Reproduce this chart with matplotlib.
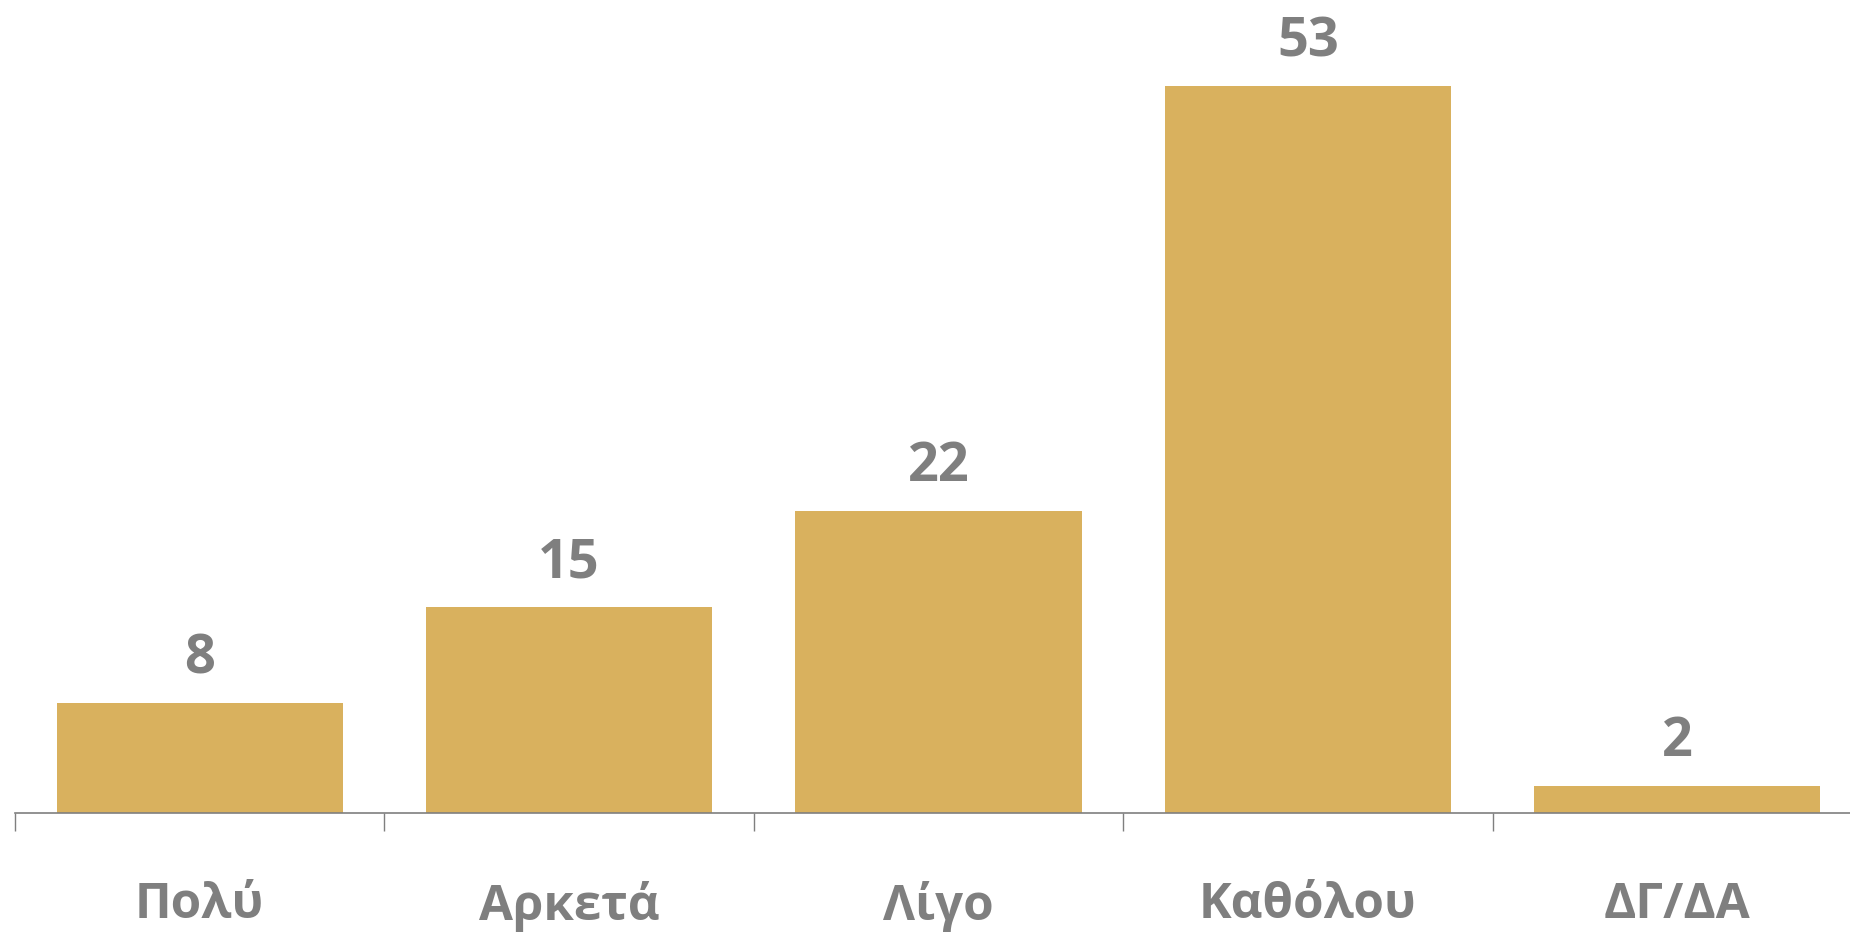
import matplotlib
matplotlib.use("Agg")
import matplotlib.pyplot as plt
import numpy as np

categories = ["Πολύ", "Αρκετά", "Λίγο", "Καθόλου", "ΔΓ/ΔΑ"]
values = [8, 15, 22, 53, 2]

bar_color = "#D9B15E"
text_color = "#7F7F7F"

plt.rcParams['font.family'] = ['Open Sans', 'DejaVu Sans']

fig = plt.figure(figsize=(18.5, 9.32), dpi=100)
ax = fig.add_axes([15 / 1850, 119 / 932, 1847 / 1850, 0.86])

x = np.arange(len(categories))
bars = ax.bar(x, values, width=0.775, color=bar_color, zorder=2)

ax.set_xlim(-0.5, len(categories) - 0.5)
ax.set_ylim(0, 0.86 * 932 / 13.72)

for b, v in zip(bars, values):
    ax.annotate(str(v), (b.get_x() + b.get_width() / 2, v),
                xytext=(0, 12), textcoords="offset points",
                ha="center", va="bottom", fontsize=39, fontweight="bold",
                color=text_color, annotation_clip=False)

for s in ["top", "right", "left"]:
    ax.spines[s].set_visible(False)
ax.spines["bottom"].set_color(text_color)
ax.spines["bottom"].set_linewidth(1.2)

ax.set_yticks([])
ax.set_xticks(x)
ax.set_xticklabels(categories, fontsize=35.5, fontweight="bold", color=text_color)
ax.tick_params(axis="x", which="major", length=0, pad=49)
ax.set_xticks(np.arange(-0.5, len(categories)), minor=True)
ax.tick_params(axis="x", which="minor", length=13, width=1.0, color=text_color, direction="out")

fig.savefig("out.png", dpi=100)
